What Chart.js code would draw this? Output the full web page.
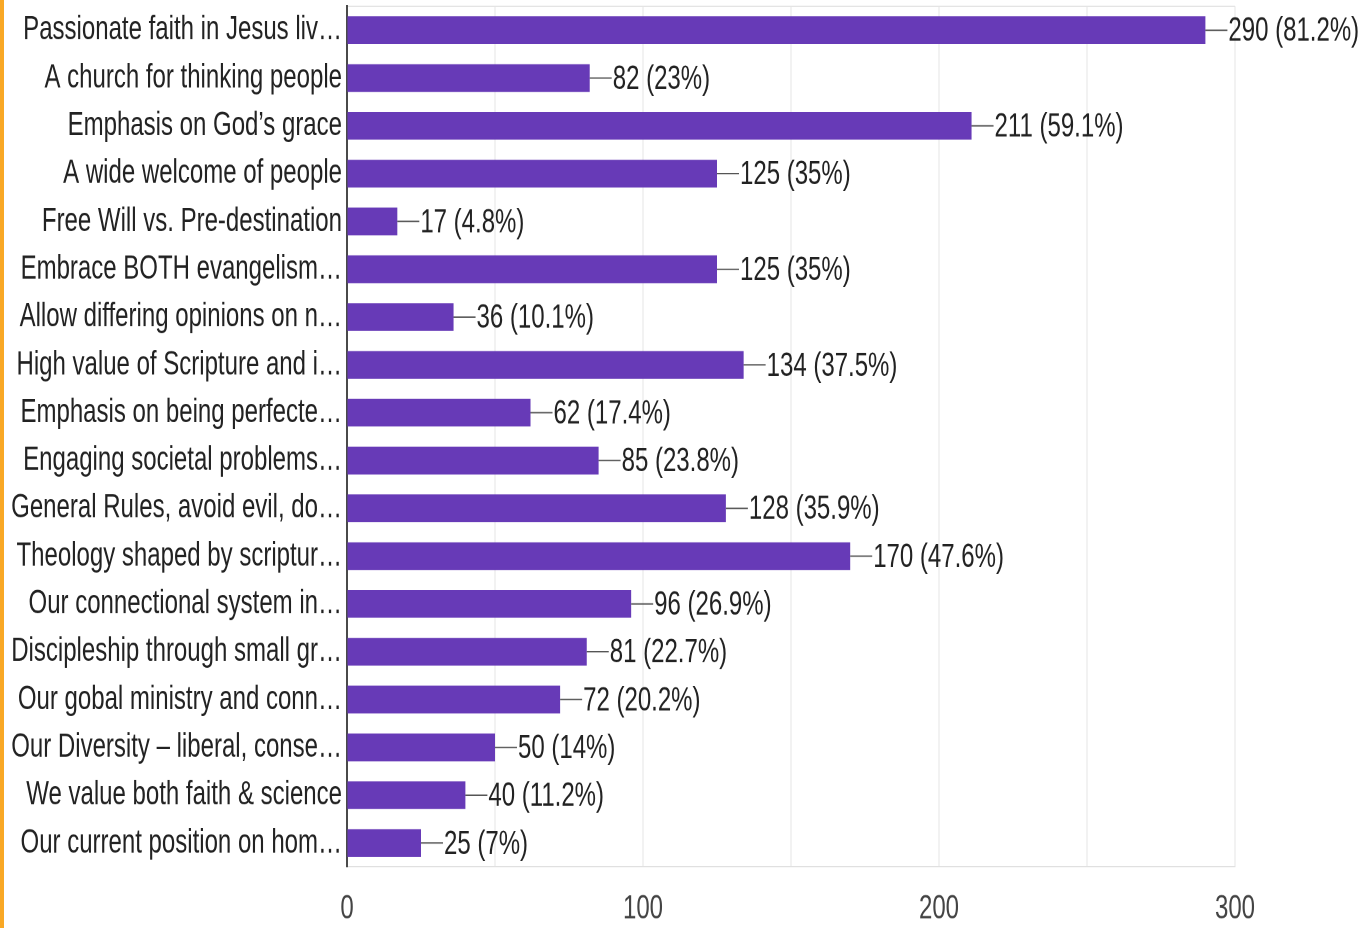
<!DOCTYPE html>
<html>
<head>
<meta charset="utf-8">
<script src="https://cdn.jsdelivr.net/npm/chart.js@4"></script>
<style>
  html, body { margin: 0; padding: 0; background: #ffffff; overflow: hidden; }
  #wrap { position: absolute; left: 0; top: 0; width: 1362px; height: 663px; transform: scaleY(1.4); transform-origin: 0 0; }
  #stripe { position: absolute; left: 0; top: 0; width: 4px; height: 928px; background: #f9a825; z-index: 5; }
</style>
</head>
<body>
<div id="stripe"></div>
<div id="wrap"><canvas id="c"></canvas></div>
<script>
const categories = [
  "Passionate faith in Jesus liv…",
  "A church for thinking people",
  "Emphasis on God’s grace",
  "A wide welcome of people",
  "Free Will vs. Pre-destination",
  "Embrace BOTH evangelism…",
  "Allow differing opinions on n…",
  "High value of Scripture and i…",
  "Emphasis on being perfecte…",
  "Engaging societal problems…",
  "General Rules, avoid evil, do…",
  "Theology shaped by scriptur…",
  "Our connectional system in…",
  "Discipleship through small gr…",
  "Our gobal ministry and conn…",
  "Our Diversity – liberal, conse…",
  "We value both faith & science",
  "Our current position on hom…"
];
const counts = [290, 82, 211, 125, 17, 125, 36, 134, 62, 85, 128, 170, 96, 81, 72, 50, 40, 25];
const percents = ["81.2", "23", "59.1", "35", "4.8", "35", "10.1", "37.5", "17.4", "23.8", "35.9", "47.6", "26.9", "22.7", "20.2", "14", "11.2", "7"];
const xTickLabels = [0, 100, 200, 300];

const FONT = "'Liberation Sans', Arial, sans-serif";

const valueLabels = {
  id: 'valueLabels',
  afterDatasetsDraw(chart) {
    const ctx = chart.ctx;
    const meta = chart.getDatasetMeta(0);
    ctx.save();
    ctx.font = "24px " + FONT;
    ctx.textBaseline = 'middle';
    ctx.textAlign = 'left';
    meta.data.forEach((bar, i) => {
      const x = bar.x, y = bar.y;
      ctx.strokeStyle = '#555555';
      ctx.lineWidth = 1;
      ctx.beginPath();
      ctx.moveTo(x, y);
      ctx.lineTo(x + 22, y);
      ctx.stroke();
      ctx.fillStyle = '#222222';
      ctx.fillText(counts[i] + ' (' + percents[i] + '%)', x + 23, y + 1);
    });
    ctx.restore();
  }
};

new Chart(document.getElementById('c'), {
  type: 'bar',
  data: {
    labels: categories,
    datasets: [{
      data: counts,
      backgroundColor: '#673ab7',
      borderWidth: 0,
      barPercentage: 0.58,
      categoryPercentage: 1.0
    }]
  },
  options: {
    indexAxis: 'y',
    responsive: true,
    maintainAspectRatio: false,
    animation: false,
    devicePixelRatio: 2,
    layout: { padding: { top: 4.5, right: 127, bottom: 0, left: 0 } },
    plugins: { legend: { display: false }, tooltip: { enabled: false } },
    scales: {
      x: {
        min: 0, max: 300,
        afterFit(scale) { scale.height -= 17; },
        ticks: {
          stepSize: 50,
          autoSkip: false,
          maxRotation: 0,
          padding: 16,
          color: '#444444',
          font: { family: FONT, size: 24 },
          callback: (v) => xTickLabels.includes(v) ? String(v) : ''
        },
        grid: { color: '#e4e4e4', lineWidth: 1, drawTicks: false },
        border: { display: true, color: '#e0e0e0', width: 1 }
      },
      y: {
        afterFit(scale) { scale.width = 347; scale.paddingTop = 0; scale.paddingBottom = 0; },
        ticks: {
          padding: 5,
          color: '#222222',
          font: { family: FONT, size: 24 },
          autoSkip: false
        },
        grid: {
          offset: true,
          drawTicks: false,
          color: (c) => c.index === 0 ? '#e4e4e4' : 'rgba(0,0,0,0)'
        },
        border: { display: true, color: '#4a4a4a', width: 2 }
      }
    }
  },
  plugins: [valueLabels]
});
</script>
</body>
</html>
